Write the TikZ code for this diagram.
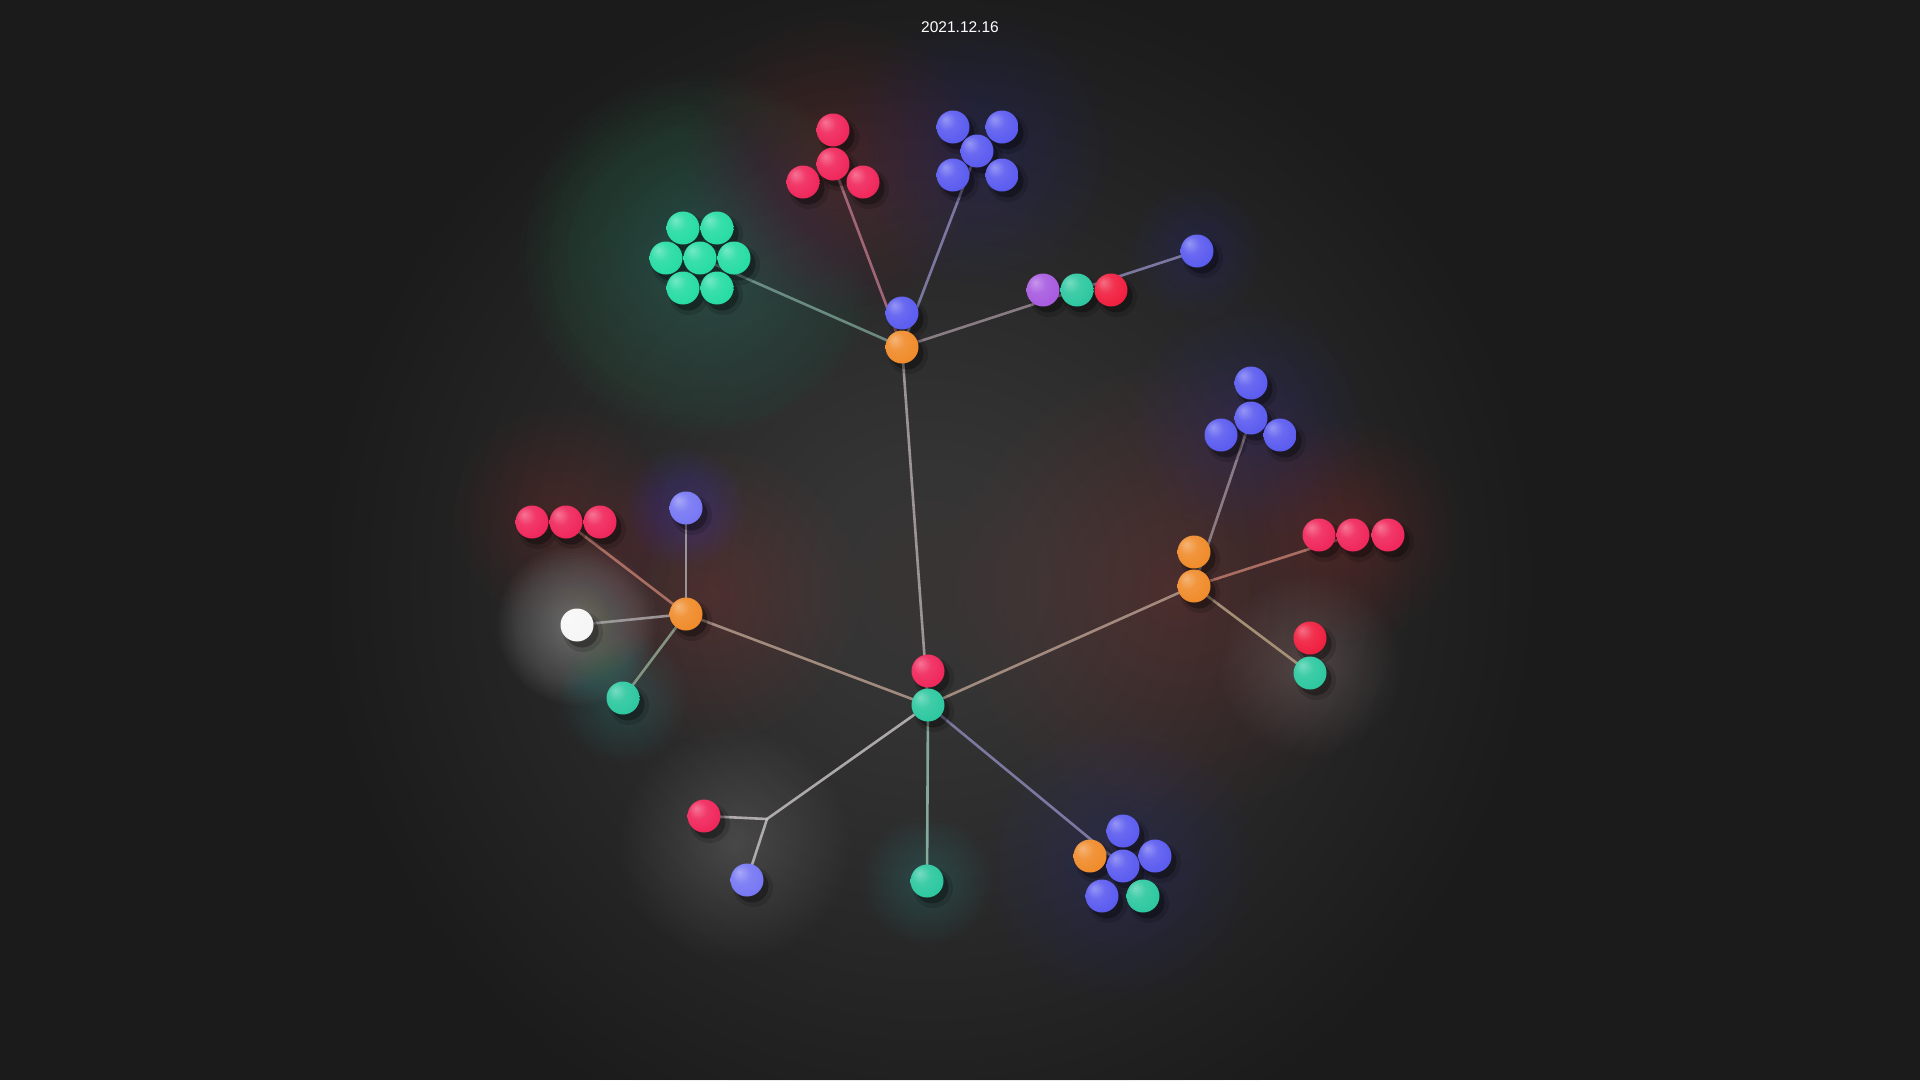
\documentclass[tikz,border=0pt]{standalone}
\usepackage{fontspec}
\setmainfont{Liberation Sans}

\definecolor{bgdark}{HTML}{1B1B1B}
\definecolor{bgmid}{HTML}{5C5858}
\definecolor{pinkball}{HTML}{F0285C}
\definecolor{redball}{HTML}{F02040}
\definecolor{blueball}{HTML}{5C5CF0}
\definecolor{lblueball}{HTML}{7878F4}
\definecolor{greenball}{HTML}{28DCA4}
\definecolor{tealball}{HTML}{2EC8A0}
\definecolor{orangeball}{HTML}{F08C2C}
\definecolor{purpleball}{HTML}{A85CE0}
\definecolor{whiteball}{HTML}{F6F6F6}
\definecolor{warmglow}{HTML}{A87450}

% link colours
\definecolor{lnkgrey}{RGB}{175,165,168}
\definecolor{lnkpink}{RGB}{180,112,132}
\definecolor{lnkblue}{RGB}{138,134,180}
\definecolor{lnkgreen}{RGB}{118,154,144}
\definecolor{lnkmauve}{RGB}{154,138,148}
\definecolor{lnkwarm}{RGB}{180,155,140}
\definecolor{lnkrust}{RGB}{188,122,108}
\definecolor{lnkpale}{RGB}{170,166,168}
\definecolor{lnksage}{RGB}{145,165,145}
\definecolor{lnksand}{RGB}{182,160,130}
\definecolor{lnklight}{RGB}{195,190,192}
\definecolor{lnkmint}{RGB}{150,190,175}

\pgfdeclarelayer{glows}
\pgfdeclarelayer{links}
\pgfdeclarelayer{shades}
\pgfsetlayers{glows,links,shades,main}

\makeatletter
\pgfdeclareradialshading[tikz@ball]{softball}{\pgfqpoint{-12bp}{12bp}}{%
  color(0bp)=(tikz@ball!65!white);
  color(14bp)=(tikz@ball!92!white);
  color(30bp)=(tikz@ball);
  color(48bp)=(tikz@ball!88!black);
  color(62bp)=(tikz@ball!72!black)}
\makeatother

% soft spot of light: centre, radius, colour, opacity of each ring
\newcommand{\glowspot}[4]{%
  \foreach \k in {1,...,30}
    \fill[#3, fill opacity=#4] (#1) circle ({#2/30*\k});
}

\begin{document}
\begin{tikzpicture}[x=1pt, y=-1pt,
  ball/.style={circle, minimum size=33pt, inner sep=0pt, ball color=#1, shading=softball},
  link/.style={draw=#1, line width=2.6pt, line cap=round, opacity=0.85}]

\useasboundingbox (0,0) rectangle (1920,1080);

% BACKGROUND AND GLOWS

\begin{pgfonlayer}{glows}
\fill[bgdark] (0,0) rectangle (1920,1080);
\glowspot{930,580}{600}{bgmid}{0.027}
\glowspot{700,255}{180}{greenball}{0.013}
\glowspot{835,165}{150}{pinkball}{0.009}
\glowspot{978,150}{140}{blueball}{0.0075}
\glowspot{1197,251}{70}{blueball}{0.008}
\glowspot{890,360}{200}{warmglow}{0.006}
\glowspot{560,515}{110}{pinkball}{0.008}
\glowspot{686,508}{60}{lblueball}{0.012}
\glowspot{577,625}{80}{white}{0.014}
\glowspot{623,698}{65}{tealball}{0.012}
\glowspot{710,595}{150}{warmglow}{0.011}
\glowspot{1250,420}{120}{blueball}{0.0075}
\glowspot{1180,590}{230}{warmglow}{0.011}
\glowspot{1355,530}{110}{pinkball}{0.008}
\glowspot{1310,665}{90}{white}{0.008}
\glowspot{735,845}{115}{white}{0.007}
\glowspot{927,881}{65}{tealball}{0.012}
\glowspot{1120,865}{140}{blueball}{0.0075}
\end{pgfonlayer}

\node[text=white, font=\fontsize{15.5}{18}\selectfont] (title) at (960,27) {2021.12.16};

% CENTER

\node[ball=pinkball] (cr) at (928,671) {};
\node[ball=tealball] (ct) at (928,705) {};

% TOP HUB

\node[ball=blueball] (thb) at (902,313) {};
\node[ball=orangeball] (th) at (902,347) {};

\node[ball=pinkball] (tr1) at (833,130) {};
\node[ball=pinkball] (tr2) at (833,164) {};
\node[ball=pinkball] (tr3) at (803,182) {};
\node[ball=pinkball] (tr4) at (863,182) {};

\node[ball=blueball] (tb1) at (953,127) {};
\node[ball=blueball] (tb2) at (1002,127) {};
\node[ball=blueball] (tb3) at (977,151) {};
\node[ball=blueball] (tb4) at (953,175) {};
\node[ball=blueball] (tb5) at (1002,175) {};

\node[ball=greenball] (tg1) at (683,228) {};
\node[ball=greenball] (tg2) at (717,228) {};
\node[ball=greenball] (tg3) at (666,258) {};
\node[ball=greenball] (tg4) at (700,258) {};
\node[ball=greenball] (tg5) at (734,258) {};
\node[ball=greenball] (tg6) at (683,288) {};
\node[ball=greenball] (tg7) at (717,288) {};

\node[ball=purpleball] (tc1) at (1043,290) {};
\node[ball=tealball] (tc2) at (1077,290) {};
\node[ball=redball] (tc3) at (1111,290) {};
\node[ball=blueball] (tbs) at (1197,251) {};

% LEFT HUB

\node[ball=orangeball] (lh) at (686,614) {};
\node[ball=lblueball] (lb) at (686,508) {};
\node[ball=pinkball] (lr1) at (532,522) {};
\node[ball=pinkball] (lr2) at (566,522) {};
\node[ball=pinkball] (lr3) at (600,522) {};
\node[ball=whiteball] (lw) at (577,625) {};
\node[ball=tealball] (lt) at (623,698) {};

% RIGHT HUB

\node[ball=orangeball] (rh2) at (1194,552) {};
\node[ball=orangeball] (rh) at (1194,586) {};
\node[ball=blueball] (rb1) at (1251,383) {};
\node[ball=blueball] (rb2) at (1251,418) {};
\node[ball=blueball] (rb3) at (1221,435) {};
\node[ball=blueball] (rb4) at (1280,435) {};
\node[ball=pinkball] (rr1) at (1319,535) {};
\node[ball=pinkball] (rr2) at (1353,535) {};
\node[ball=pinkball] (rr3) at (1388,535) {};
\node[ball=redball] (rp) at (1310,638) {};
\node[ball=tealball] (rt) at (1310,673) {};

% BOTTOM

\coordinate (bj) at (767,819);
\node[ball=pinkball] (br) at (704,816) {};
\node[ball=lblueball] (bb) at (747,880) {};
\node[ball=tealball] (bt) at (927,881) {};
\node[ball=orangeball] (bc0) at (1090,856) {};
\node[ball=blueball] (bc1) at (1123,831) {};
\node[ball=blueball] (bc2) at (1155,856) {};
\node[ball=blueball] (bc3) at (1123,866) {};
\node[ball=blueball] (bc4) at (1102,896) {};
\node[ball=tealball] (bc5) at (1143,896) {};

% SHADOWS (under every ball)

\begin{pgfonlayer}{shades}
\foreach \n in {cr,ct,thb,th,tr1,tr2,tr3,tr4,tb1,tb2,tb3,tb4,tb5,
    tg1,tg2,tg3,tg4,tg5,tg6,tg7,tc1,tc2,tc3,tbs,
    lh,lb,lr1,lr2,lr3,lw,lt,rh2,rh,rb1,rb2,rb3,rb4,rr1,rr2,rr3,rp,rt,
    br,bb,bt,bc0,bc1,bc2,bc3,bc4,bc5}{
  \fill[black, opacity=0.14] ([shift={(6,7)}]\n.center) circle (20);
  \fill[black, opacity=0.3] ([shift={(5,6)}]\n.center) circle (16.5);
}
\end{pgfonlayer}

% LINKS

\begin{pgfonlayer}{links}
\draw[link=lnkgrey] (th.center) -- (ct.center);
\draw[link=lnkpink] (th.center) -- (tr2.center);
\draw[link=lnkblue] (th.center) -- (tb3.center);
\draw[link=lnkgreen] (th.center) -- (tg4.center);
\draw[link=lnkmauve] (th.center) -- (tc2.center);
\draw[link=lnkblue] (tc2.center) -- (tbs.center);

\draw[link=lnkwarm] (lh.center) -- (ct.center);
\draw[link=lnkrust] (lh.center) -- (lr2.center);
\draw[link=lnkpale] (lh.center) -- (lb.center);
\draw[link=lnkpale] (lh.center) -- (lw.center);
\draw[link=lnksage] (lh.center) -- (lt.center);

\draw[link=lnkwarm] (rh.center) -- (ct.center);
\draw[link=lnkmauve] (rh.center) -- (rb2.center);
\draw[link=lnkrust] (rh.center) -- (rr2.center);
\draw[link=lnksand] (rh.center) -- (rt.center);

\draw[link=lnklight] (ct.center) -- (bj);
\draw[link=lnklight] (bj) -- (br.center);
\draw[link=lnklight] (bj) -- (bb.center);
\draw[link=lnkmint] (ct.center) -- (bt.center);
\draw[link=lnkblue] (ct.center) -- (bc3.center);
\end{pgfonlayer}

\end{tikzpicture}
\end{document}
